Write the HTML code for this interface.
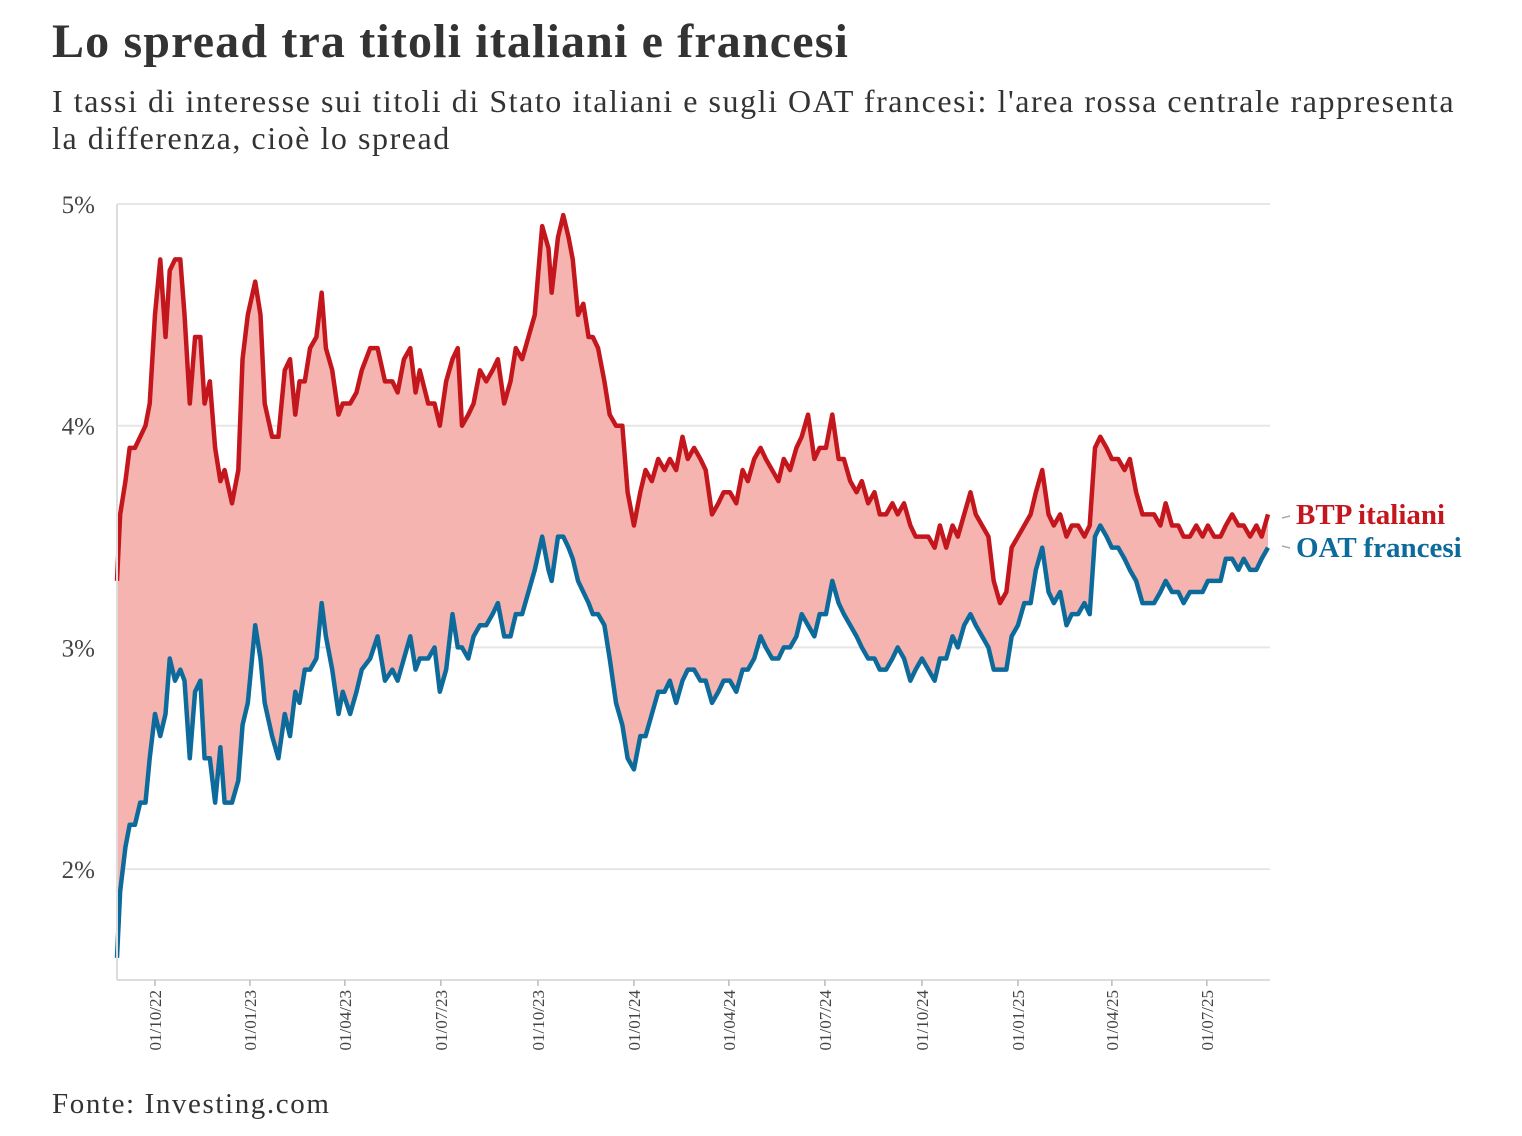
<!DOCTYPE html>
<html><head><meta charset="utf-8"><style>
body{margin:0;background:#fff;width:1522px;height:1136px;overflow:hidden;font-family:"Liberation Serif",serif;color:#333}
#title{position:absolute;left:52px;top:14px;font-size:48px;letter-spacing:1.15px;font-weight:bold;margin:0;color:#333}
#sub{position:absolute;left:52px;top:83px;font-size:32px;letter-spacing:1.55px;line-height:37px;width:1460px;color:#333}
#src{position:absolute;left:52px;top:1088px;font-size:29px;letter-spacing:1.6px;color:#333}
svg{position:absolute;left:0;top:0}
</style></head><body>
<h1 id="title">Lo spread tra titoli italiani e francesi</h1>
<div id="sub">I tassi di interesse sui titoli di Stato italiani e sugli OAT francesi: l'area rossa centrale rappresenta<br>la differenza, cioè lo spread</div>
<div id="src">Fonte: Investing.com</div>
<svg id="chart" width="1522" height="1136"></svg>
<script>
const days=[0,3,8,12,17,22,27,31,36,41,46,50,55,60,64,69,74,79,83,88,93,98,102,109,115,119,124,131,136,140,147,153,159,164,169,173,178,183,189,194,198,204,210,214,221,227,232,240,247,254,261,266,272,278,283,287,295,301,306,312,318,323,327,333,338,344,350,356,361,367,373,378,384,390,396,403,409,412,418,423,428,432,437,442,447,451,456,462,467,473,479,484,490,496,501,507,513,519,524,530,536,541,547,553,558,564,570,575,581,587,593,598,604,610,615,621,627,632,638,644,649,655,661,666,672,678,684,689,695,701,706,712,718,723,729,735,740,746,752,757,763,769,775,780,786,792,797,803,809,814,820,826,831,837,843,848,854,860,866,871,877,883,888,894,900,905,911,917,922,927,932,938,943,949,955,960,966,972,977,983,989,994,1000,1006,1011,1017,1023,1029,1034,1040,1046,1051,1057,1063,1068,1074,1080,1085,1091];
const btp=[3.3,3.6,3.75,3.9,3.9,3.95,4.0,4.1,4.5,4.75,4.4,4.7,4.75,4.75,4.5,4.1,4.4,4.4,4.1,4.2,3.9,3.75,3.8,3.65,3.8,4.3,4.5,4.65,4.5,4.1,3.95,3.95,4.25,4.3,4.05,4.2,4.2,4.35,4.4,4.6,4.35,4.25,4.05,4.1,4.1,4.15,4.25,4.35,4.35,4.2,4.2,4.15,4.3,4.35,4.15,4.25,4.1,4.1,4.0,4.2,4.3,4.35,4.0,4.05,4.1,4.25,4.2,4.25,4.3,4.1,4.2,4.35,4.3,4.4,4.5,4.9,4.8,4.6,4.85,4.95,4.85,4.75,4.5,4.55,4.4,4.4,4.35,4.2,4.05,4.0,4.0,3.7,3.55,3.7,3.8,3.75,3.85,3.8,3.85,3.8,3.95,3.85,3.9,3.85,3.8,3.6,3.65,3.7,3.7,3.65,3.8,3.75,3.85,3.9,3.85,3.8,3.75,3.85,3.8,3.9,3.95,4.05,3.85,3.9,3.9,4.05,3.85,3.85,3.75,3.7,3.75,3.65,3.7,3.6,3.6,3.65,3.6,3.65,3.55,3.5,3.5,3.5,3.45,3.55,3.45,3.55,3.5,3.6,3.7,3.6,3.55,3.5,3.3,3.2,3.25,3.45,3.5,3.55,3.6,3.7,3.8,3.6,3.55,3.6,3.5,3.55,3.55,3.5,3.55,3.9,3.95,3.9,3.85,3.85,3.8,3.85,3.7,3.6,3.6,3.6,3.55,3.65,3.55,3.55,3.5,3.5,3.55,3.5,3.55,3.5,3.5,3.55,3.6,3.55,3.55,3.5,3.55,3.5,3.6];
const oat=[1.6,1.9,2.1,2.2,2.2,2.3,2.3,2.5,2.7,2.6,2.7,2.95,2.85,2.9,2.85,2.5,2.8,2.85,2.5,2.5,2.3,2.55,2.3,2.3,2.4,2.65,2.75,3.1,2.95,2.75,2.6,2.5,2.7,2.6,2.8,2.75,2.9,2.9,2.95,3.2,3.05,2.9,2.7,2.8,2.7,2.8,2.9,2.95,3.05,2.85,2.9,2.85,2.95,3.05,2.9,2.95,2.95,3.0,2.8,2.9,3.15,3.0,3.0,2.95,3.05,3.1,3.1,3.15,3.2,3.05,3.05,3.15,3.15,3.25,3.35,3.5,3.35,3.3,3.5,3.5,3.45,3.4,3.3,3.25,3.2,3.15,3.15,3.1,2.95,2.75,2.65,2.5,2.45,2.6,2.6,2.7,2.8,2.8,2.85,2.75,2.85,2.9,2.9,2.85,2.85,2.75,2.8,2.85,2.85,2.8,2.9,2.9,2.95,3.05,3.0,2.95,2.95,3.0,3.0,3.05,3.15,3.1,3.05,3.15,3.15,3.3,3.2,3.15,3.1,3.05,3.0,2.95,2.95,2.9,2.9,2.95,3.0,2.95,2.85,2.9,2.95,2.9,2.85,2.95,2.95,3.05,3.0,3.1,3.15,3.1,3.05,3.0,2.9,2.9,2.9,3.05,3.1,3.2,3.2,3.35,3.45,3.25,3.2,3.25,3.1,3.15,3.15,3.2,3.15,3.5,3.55,3.5,3.45,3.45,3.4,3.35,3.3,3.2,3.2,3.2,3.25,3.3,3.25,3.25,3.2,3.25,3.25,3.25,3.3,3.3,3.3,3.4,3.4,3.35,3.4,3.35,3.35,3.4,3.45];
const yTicks=[5,4,3,2];
const yTickLabels=["5%","4%","3%","2%"];
const xTickDays=[36,126,216,307,399,490,580,671,763,854,943,1033];
const xTickLabels=["01/10/22","01/01/23","01/04/23","01/07/23","01/10/23","01/01/24","01/04/24","01/07/24","01/10/24","01/01/25","01/04/25","01/07/25"];

const NS="http://www.w3.org/2000/svg";
const svg=document.getElementById('chart');
const X0=117,X1=1270,YT=204,YB=980;
const dMax=1091;
const xs=d=>X0+(d/dMax)*(1268-X0);
const ys=v=>YT+(5-v)*(YB-YT)/3.5;
function mk(t,a,p){const e=document.createElementNS(NS,t);for(const k in a)e.setAttribute(k,a[k]);(p||svg).appendChild(e);return e;}
const N=Math.min(days.length,btp.length,oat.length);
const idx=[];for(let i=0;i<N;i++)idx.push(i);

yTicks.forEach((v,i)=>{
  const g=mk('line',{x1:X0,x2:X1,y1:ys(v),y2:ys(v),stroke:'#e6e6e6','stroke-width':2});
  
  
  const t=mk('text',{x:95,y:ys(v)+9,'text-anchor':'end','font-size':25,fill:'#444','font-family':'Liberation Serif, serif'});
  t.textContent=yTickLabels[i];
  
  
});

const topPts=idx.map(i=>xs(days[i])+','+ys(btp[i])).join(' ');
const botPts=idx.slice().reverse().map(i=>xs(days[i])+','+ys(oat[i])).join(' ');
const area=mk('polygon',{points:topPts+' '+botPts,fill:'#f5b4b0'});



const lb=mk('polyline',{points:idx.map(i=>xs(days[i])+','+ys(oat[i])).join(' '),fill:'none',stroke:'#0d6b9c','stroke-width':4.5,'stroke-linejoin':'round'});


const lr=mk('polyline',{points:idx.map(i=>xs(days[i])+','+ys(btp[i])).join(' '),fill:'none',stroke:'#c4171d','stroke-width':4.5,'stroke-linejoin':'round'});



const ya=mk('line',{x1:X0,x2:X0,y1:YT,y2:YB,stroke:'#ddd','stroke-width':2});


const xa=mk('line',{x1:X0,x2:X1,y1:YB,y2:YB,stroke:'#ddd','stroke-width':2});



xTickDays.forEach((d,i)=>{
  const x=xs(d);
  const tk=mk('line',{x1:x,x2:x,y1:YB,y2:YB+6,stroke:'#bbb','stroke-width':1.5});
  
  
  const t=mk('text',{x:0,y:0,'text-anchor':'end','font-size':17,fill:'#444','font-family':'Liberation Serif, serif',transform:`translate(${x+6},${YB+10}) rotate(-90)`});
  t.textContent=xTickLabels[i];
  
  
});

const c1=mk('line',{x1:1282,x2:1290,y1:518,y2:516,stroke:'#aaa','stroke-width':1.5});


const c2=mk('line',{x1:1282,x2:1290,y1:546,y2:548,stroke:'#aaa','stroke-width':1.5});


const l1=mk('text',{x:1296,y:524,'font-size':29,'font-weight':'bold',fill:'#c4171d','font-family':'Liberation Serif, serif'});
l1.textContent='BTP italiani';


const l2=mk('text',{x:1296,y:557,'font-size':29,'font-weight':'bold',fill:'#0d6b9c','font-family':'Liberation Serif, serif'});
l2.textContent='OAT francesi';


</script>
</body></html>
